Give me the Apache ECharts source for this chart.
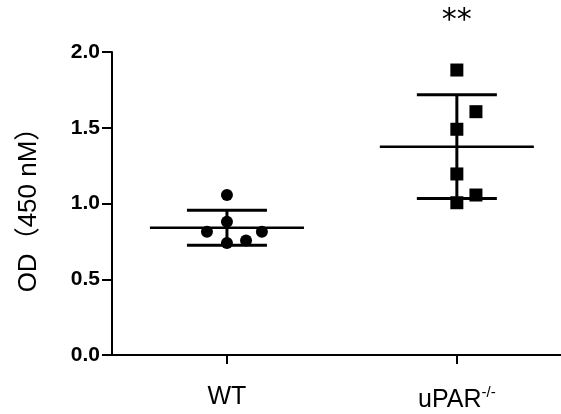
<!DOCTYPE html>
<html>
<head>
<meta charset="utf-8">
<title>OD 450</title>
<script src="https://cdn.jsdelivr.net/npm/echarts@6/dist/echarts.min.js"></script>
<style>
  html, body { margin: 0; padding: 0; background: #fff; }
  #main { width: 561px; height: 414px; }
</style>
</head>
<body>
<div id="main"></div>
<script>
// 组名
var groups = ["WT", "uPAR"];
var groupPos = [1, 2];

// 每个点的值 + 横向抖动
var wtValues = [1.056, 0.88, 0.814, 0.814, 0.74, 0.755];
var wtJitter = [0, 0, -0.087, 0.152, 0, 0.083];
var koValues = [1.881, 1.606, 1.49, 1.195, 1.056, 1.005];
var koJitter = [0, 0.083, 0, 0, 0.083, 0];

// 均值 和 SD
var means = [0.84, 1.375];
var sds = [0.115, 0.342];

// 显著性标记
var sigLabels = ["", "**"];
var sigY = 2.2;

var font = "'Liberation Sans', Arial, 'Noto Sans CJK SC', sans-serif";

function points(values, jitter, x) {
    return values.map(function (v, i) {
        return [x + jitter[i], v];
    });
}

var statData = groupPos.map(function (x, i) {
    return [x, means[i], sds[i]];
});

var sigData = [];
groupPos.forEach(function (x, i) {
    if (sigLabels[i]) sigData.push({ value: [x, sigY], name: sigLabels[i] });
});

var chart = echarts.init(document.getElementById("main"));

chart.setOption({
    animation: false,
    grid: { left: 112, right: 0, top: 52, bottom: 59 },
    xAxis: {
        type: "value",
        min: 0.5,
        max: 2.453,
        splitLine: { show: false },
        axisLine: { lineStyle: { color: "#000", width: 2 } },
        axisTick: {
            customValues: groupPos,
            length: 9,
            lineStyle: { color: "#000", width: 2 }
        },
        axisLabel: {
            customValues: groupPos,
            margin: 30,
            formatter: function (v) {
                var i = groupPos.indexOf(v);
                if (i === 1) return "{a|" + groups[i] + "}{sup|-/-}";
                return "{a|" + groups[i] + "}";
            },
            rich: {
                a: { fontSize: 25, fontFamily: font, color: "#000" },
                sup: { fontSize: 15, fontFamily: font, color: "#000", verticalAlign: "top", padding: [0, 0, 16, 0] }
            }
        }
    },
    yAxis: {
        type: "value",
        min: 0,
        max: 2,
        interval: 0.5,
        name: "OD（450 nM）",
        nameLocation: "middle",
        nameGap: 70,
        nameTextStyle: { fontSize: 26, fontFamily: font, color: "#000" },
        splitLine: { show: false },
        axisLine: { show: true, lineStyle: { color: "#000", width: 2 } },
        axisTick: { length: 10, lineStyle: { color: "#000", width: 2 } },
        axisLabel: {
            margin: 12,
            fontSize: 21,
            fontWeight: "bold",
            fontFamily: font,
            color: "#000",
            formatter: function (v) { return v.toFixed(1); }
        }
    },
    series: [
        {
            // 均值线 + SD
            type: "custom",
            data: statData,
            z: 1,
            renderItem: function (params, api) {
                var x = api.value(0), m = api.value(1), s = api.value(2);
                var mL = api.coord([x - 0.335, m]);
                var mR = api.coord([x + 0.335, m]);
                var top = api.coord([x, m + s]);
                var bot = api.coord([x, m - s]);
                var tL = api.coord([x - 0.174, m + s]);
                var tR = api.coord([x + 0.174, m + s]);
                var bL = api.coord([x - 0.174, m - s]);
                var bR = api.coord([x + 0.174, m - s]);
                var st = { stroke: "#000", lineWidth: 3 };
                return {
                    type: "group",
                    children: [
                        { type: "line", shape: { x1: mL[0], y1: mL[1], x2: mR[0], y2: mR[1] }, style: { stroke: "#000", lineWidth: 2.5 } },
                        { type: "line", shape: { x1: top[0], y1: top[1], x2: bot[0], y2: bot[1] }, style: st },
                        { type: "line", shape: { x1: tL[0], y1: tL[1], x2: tR[0], y2: tR[1] }, style: st },
                        { type: "line", shape: { x1: bL[0], y1: bL[1], x2: bR[0], y2: bR[1] }, style: st }
                    ]
                };
            }
        },
        {
            type: "scatter",
            data: points(wtValues, wtJitter, groupPos[0]),
            symbol: "circle",
            symbolSize: 12,
            itemStyle: { color: "#000", opacity: 1 },
            z: 2
        },
        {
            type: "scatter",
            data: points(koValues, koJitter, groupPos[1]),
            symbol: "rect",
            symbolSize: 13,
            itemStyle: { color: "#000", opacity: 1 },
            z: 2
        },
        {
            // ** 标记
            type: "scatter",
            data: sigData,
            symbolSize: 0,
            clip: false,
            itemStyle: { opacity: 1 },
            label: {
                show: true,
                position: "inside",
                formatter: "{b}",
                fontSize: 30,
                fontFamily: "'DejaVu Sans', sans-serif",
                color: "#000",
                opacity: 1
            }
        }
    ]
});
</script>
</body>
</html>
